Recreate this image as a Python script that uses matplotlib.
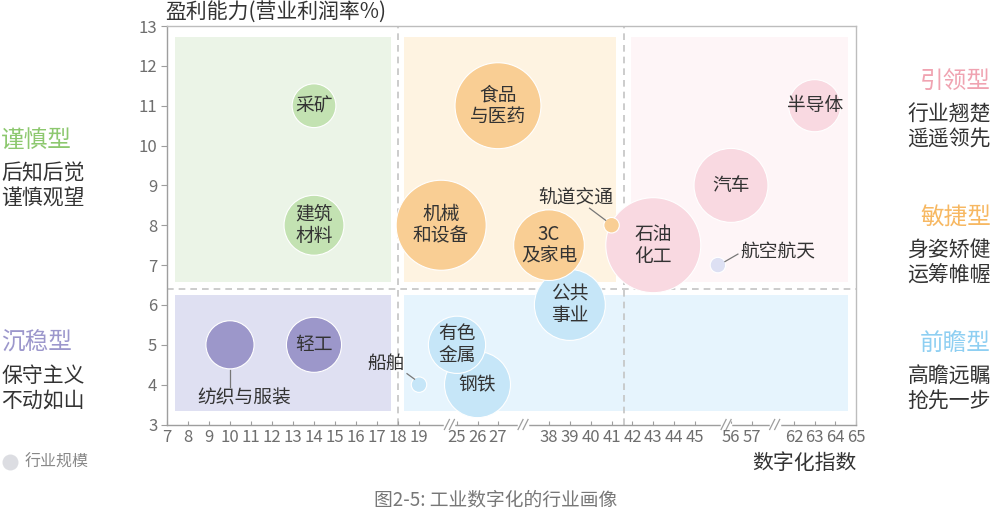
import numpy as np
import matplotlib
matplotlib.use("Agg")
import matplotlib.pyplot as plt
from matplotlib.patches import Rectangle
from matplotlib.lines import Line2D
from matplotlib.transforms import IdentityTransform

plt.rcParams['font.family'] = ['Noto Sans CJK SC', 'DejaVu Sans']

W, H = 992, 511

# ---- data (drawing order: later bubbles sit on top) ----
industries = ['公共\n事业', '钢铁', '有色\n金属', '船舶', '石油\n化工', '汽车', '航空航天', '半导体',
              '采矿', '建筑\n材料', '纺织与服装', '轻工', '食品\n与医药', '机械\n和设备', '3C\n及家电', '轨道交通']
digital = [39, 26, 25, 19, 43, 56, 52, 63, 14, 14, 10, 14, 27, 22.5, 38, 41]
profit = [6, 4, 5, 4, 7.5, 9, 7, 11, 11, 8, 5, 5, 11, 8, 7.5, 8]
scale = [126, 109, 82, 6, 226, 137, 6, 68, 48, 90, 58, 76, 185, 203, 125, 6]
quadrant = ['前瞻', '前瞻', '前瞻', '前瞻', '引领', '引领', '航空', '引领',
            '谨慎', '谨慎', '沉稳', '沉稳', '敏捷', '敏捷', '敏捷', '敏捷']

xticks = list(range(7, 20)) + [25, 26, 27] + list(range(38, 46)) + [56, 57] + [62, 63, 64, 65]
yticks = list(range(3, 14))
x_breaks = [23.8, 32.4, 54.5, 59.7]

side_left = [('谨慎型', '后知后觉\n谨慎观望', '#8DC86F', 140),
             ('沉稳型', '保守主义\n不动如山', '#9C97CC', 343)]
side_right = [('引领型', '行业翘楚\n遥遥领先', '#F0A3B1', 81),
              ('敏捷型', '身姿矫健\n运筹帷幄', '#F7B862', 217),
              ('前瞻型', '高瞻远瞩\n抢先一步', '#8ECFF2', 343)]

bubble_col = {'谨慎': '#C3E2B2', '沉稳': '#9C97CA', '敏捷': '#F9CE94',
              '引领': '#F9D9E1', '前瞻': '#C6E6F8', '航空': '#DDE0F3'}

# broken x axis: value -> pixel offset along the axis
knot_val = [-1000, 7, 19, 25, 27, 38, 45, 56, 57, 62, 65, 1000]
knot_pos = [-1007 * 21, 0, 252, 290, 331, 382, 528, 564, 585, 627, 689, 689 + 935 * 20.7]


def fwd(v):
    return np.interp(v, knot_val, knot_pos)


def inv(p):
    return np.interp(p, knot_pos, knot_val)


fig = plt.figure(figsize=(W / 100, H / 100), dpi=100)
ax = fig.add_axes([167 / W, (H - 424.5) / H, 689 / W, 398.5 / H])
ax.set_xscale('function', functions=(fwd, inv))
ax.set_xlim(7, 65)
ax.set_ylim(3, 13)


def disp(x, y):
    return ax.transData.transform((x, y))


# quadrant backgrounds, drawn in pixels around the divider lines
xdiv1, xdiv2, ydiv = 18, 41.6, 6.4
L, B = disp(7, 3)
R, T = disp(65, 13)
d1 = disp(xdiv1, ydiv)[0]
d2 = disp(xdiv2, ydiv)[0]
dy = disp(7, ydiv)[1]
boxes = [
    (L + 8, dy + 7, d1 - 7, T - 11, '#EBF4E7'),
    (L + 8, B + 14, d1 - 7, dy - 6, '#DFE0F2'),
    (d1 + 6, dy + 7, d2 - 8, T - 11, '#FEF3E1'),
    (d2 + 7, dy + 7, R - 8, T - 11, '#FEF5F7'),
    (d1 + 6, B + 14, R - 8, dy - 6, '#E6F4FD'),
]
for x0, y0, x1, y1, c in boxes:
    ax.add_patch(Rectangle((x0, y0), x1 - x0, y1 - y0, transform=IdentityTransform(),
                           facecolor=c, edgecolor='none', zorder=0))

ax.axvline(xdiv1, color='#C4C4C4', lw=1.2, dashes=(4, 3), zorder=1)
ax.axvline(xdiv2, color='#C4C4C4', lw=1.2, dashes=(4, 3), zorder=1)
ax.axhline(ydiv, color='#C4C4C4', lw=1.2, dashes=(4, 3), zorder=1)

# bubbles
ax.scatter(digital, profit, s=np.array(scale) * 20.7,
           c=[bubble_col[q] for q in quadrant], edgecolors='white', linewidths=0.8, zorder=3)

# labels: inside bubbles, or beside them with a short leader (pixel offsets)
outside = {
    '纺织与服装': ((14, -53), (0, -25), (0, -42)),
    '船舶': ((-33, 21), (-12, 11), (-4.5, 5.5)),
    '轨道交通': ((-36, 28), (-22, 17), (-6, 5)),
    '航空航天': ((60, 13), (7, 3.5), (20, 11)),
}
for name, x, y in zip(industries, digital, profit):
    if name in outside:
        (tx, ty), (ax0, ay0), (ax1, ay1) = outside[name]
        px, py = disp(x, y)
        ax.add_line(Line2D([px + ax0, px + ax1], [py + ay0, py + ay1], transform=IdentityTransform(),
                           color='#777777', lw=0.9, zorder=4))
        ax.annotate(name, (x, y), xytext=(tx * 0.72, ty * 0.72), textcoords='offset points',
                    ha='center', va='center', fontsize=13.5, color='#333333', zorder=5)
    else:
        ax.text(x, y, name, ha='center', va='center', fontsize=13.5, color='#333333',
                linespacing=1.05, zorder=5)

# axes look
for sp in ax.spines.values():
    sp.set_color('#BDBDBD')
    sp.set_linewidth(1)
ax.spines['left'].set_color('#9E9E9E')
ax.spines['bottom'].set_color('#9E9E9E')
ax.set_xticks(xticks)
ax.set_xticklabels([str(t) for t in xticks])
ax.set_yticks(yticks)
ax.minorticks_off()
ax.tick_params(axis='x', direction='in', length=3, color='#9E9E9E', labelsize=12,
               labelcolor='#6E6E6E', pad=3)
ax.tick_params(axis='y', direction='out', length=4, color='#9E9E9E', labelsize=12,
               labelcolor='#6E6E6E', pad=3)

# break marks on the x axis
for bx in x_breaks:
    px, py = disp(bx, 3)
    ax.add_line(Line2D([px - 4, px + 4], [py, py], transform=IdentityTransform(),
                       color='white', lw=2.5, zorder=6, clip_on=False))
    for off in (-2.5, 2.5):
        ax.add_line(Line2D([px + off - 2.5, px + off + 2.5], [py - 5, py + 5],
                           transform=IdentityTransform(), color='#9E9E9E', lw=0.9,
                           zorder=7, clip_on=False))

# titles
fig.text(165 / W, 1 - 12 / H, '盈利能力(营业利润率%)', ha='left', va='center',
         fontsize=15, color='#333333')
fig.text(857 / W, 1 - 463 / H, '数字化指数', ha='right', va='center', fontsize=15, color='#333333')
fig.text(0.5, 1 - 500 / H, '图2-5: 工业数字化的行业画像', ha='center', va='center',
         fontsize=13.5, color='#777777')

for title, desc, col, ypx in side_left:
    fig.text(1 / W, 1 - ypx / H, title, ha='left', va='center', fontsize=17, color=col)
    fig.text(1 / W, 1 - (ypx + 46) / H, desc, ha='left', va='center', fontsize=15,
             color='#333333', linespacing=1.2)
for title, desc, col, ypx in side_right:
    fig.text(991 / W, 1 - ypx / H, title, ha='right', va='center', fontsize=17, color=col)
    fig.text(991 / W, 1 - (ypx + 46) / H, desc, ha='right', va='center', fontsize=15,
             color='#333333', linespacing=1.2)

# legend
fig.add_artist(Line2D([10], [H - 462], marker='o', markersize=11.5, color='#DCDDE2',
                      markeredgecolor='none', transform=IdentityTransform()))
fig.text(25 / W, 1 - 462 / H, '行业规模', ha='left', va='center', fontsize=11.5, color='#888888')

fig.savefig('out.png', dpi=100)
